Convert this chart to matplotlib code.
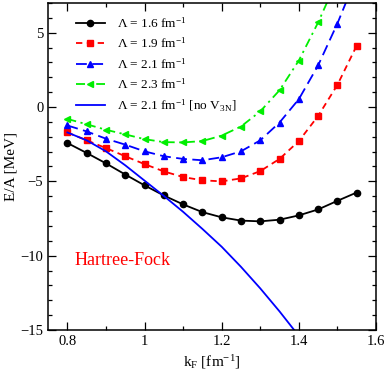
import matplotlib
matplotlib.use("Agg")
import matplotlib.pyplot as plt
import numpy as np
from matplotlib.ticker import MultipleLocator

plt.rcParams['font.family'] = ['Liberation Serif', 'DejaVu Serif']
plt.rcParams['mathtext.fontset'] = 'custom'
plt.rcParams['mathtext.rm'] = 'Liberation Serif'
plt.rcParams['mathtext.it'] = 'Liberation Serif:italic'

# k_F grid [fm^-1]
kf = [0.80, 0.85, 0.90, 0.95, 1.00, 1.05, 1.10, 1.15,
      1.20, 1.25, 1.30, 1.35, 1.40, 1.45, 1.50, 1.55]

# E/A [MeV] for each cutoff
ea_16 = [-2.42, -3.09, -3.79, -4.54, -5.27, -5.95, -6.55, -7.07,
         -7.42, -7.64, -7.69, -7.58, -7.29, -6.89, -6.31, -5.75]
ea_19 = [-1.71, -2.24, -2.76, -3.31, -3.84, -4.33, -4.71, -4.93,
         -5.00, -4.80, -4.31, -3.49, -2.29, -0.60, 1.49, 4.13]
ea_21 = [-1.24, -1.64, -2.13, -2.53, -2.98, -3.31, -3.49, -3.58,
         -3.38, -2.98, -2.24, -1.04, 0.53, 2.80, 5.62, 8.80]
ea_23 = [-0.80, -1.16, -1.53, -1.84, -2.16, -2.36, -2.38, -2.29,
         -1.92, -1.31, -0.29, 1.13, 3.13, 5.69, 8.60, 12.0]

# no three-nucleon force, Lambda = 2.1
kf_no3n = [0.80, 0.85, 0.90, 0.95, 1.00, 1.05, 1.10, 1.15, 1.20, 1.25, 1.30, 1.35, 1.40]
ea_no3n = [-1.71, -2.24, -2.98, -3.92, -4.95, -5.98, -7.05, -8.20, -9.40,
           -10.75, -12.20, -13.75, -15.40]

fig = plt.figure(figsize=(3.88, 3.80), dpi=100)
ax = fig.add_axes([0.124, 0.1316, 0.845, 0.8605])

ax.plot(kf, ea_16, color='black', lw=1.3, marker='o', ms=4.5,
        label=r'$\Lambda$ = 1.6 fm$^{-1}$')
ax.plot(kf, ea_19, color='red', lw=1.3, ls=(0, (3.5, 2.5)), marker='s', ms=4,
        label=r'$\Lambda$ = 1.9 fm$^{-1}$')
ax.plot(kf, ea_21, color='blue', lw=1.3, ls=(0, (6, 3)), marker='^', ms=4.5,
        label=r'$\Lambda$ = 2.1 fm$^{-1}$')
ax.plot(kf, ea_23, color='#00ee00', lw=1.3, ls=(0, (5, 2.5, 1.2, 2.5)), marker='<', ms=4.5,
        label=r'$\Lambda$ = 2.3 fm$^{-1}$')
ax.plot(kf_no3n, ea_no3n, color='blue', lw=1.3,
        label=r'$\Lambda$ = 2.1 fm$^{-1}$ [no V$_{3\mathrm{N}}$]')

ax.text(0.819, -10.3, 'Hartree-Fock', color='red', fontsize=13,
        ha='left', va='center')

ax.set_xlim(0.75, 1.6)
ax.set_ylim(-15, 7)
ax.xaxis.set_major_locator(MultipleLocator(0.2))
ax.xaxis.set_minor_locator(MultipleLocator(0.1))
ax.yaxis.set_major_locator(MultipleLocator(5))
ax.yaxis.set_minor_locator(MultipleLocator(1))
ax.set_xticks([0.8, 1.0, 1.2, 1.4, 1.6])
ax.set_xticklabels(['0.8', '1', '1.2', '1.4', '1.6'])
ax.tick_params(which='both', direction='in', top=True, right=True, labelsize=10.5)
ax.tick_params(which='major', length=6, width=0.9)
ax.tick_params(which='minor', length=3, width=0.9)
for s in ax.spines.values():
    s.set_linewidth(1.1)

ax.set_xlabel(r'k$_\mathrm{F}$ [fm$^{-1}$]', fontsize=11, labelpad=4)
ax.set_ylabel('E/A [MeV]', fontsize=11, labelpad=2)

ax.legend(loc='upper left', bbox_to_anchor=(0.06, 0.985), frameon=False,
          fontsize=9.5, handlelength=2.2, handletextpad=0.9, labelspacing=0.45,
          borderaxespad=0.2)

fig.savefig('out.png', dpi=100)
